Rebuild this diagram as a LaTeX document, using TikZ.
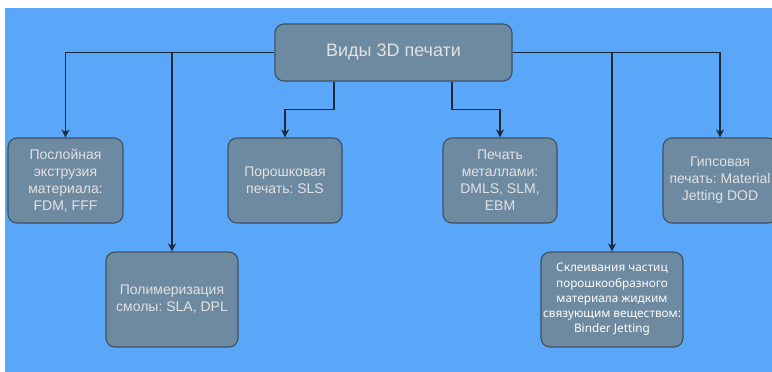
\documentclass[tikz,border=0pt]{standalone}
\usepackage{fontspec}
\setmainfont{Liberation Sans}
\newfontfamily\uifont{Noto Sans}
\usetikzlibrary{arrows.meta,calc}
\frenchspacing
\definecolor{canvasblue}{HTML}{5AA6F8}
\definecolor{boxfill}{HTML}{6E8AA0}
\definecolor{boxline}{HTML}{3E5163}
\definecolor{boxtext}{HTML}{E2E2E2}
\definecolor{wire}{HTML}{1C2A38}
\tikzset{
  card/.style={draw=boxline, fill=boxfill, line width=1.1pt, rounded corners=9pt,
    inner sep=0pt, align=center, text=boxtext,
    font=\frenchspacing\fontsize{14}{17}\selectfont},
  wirearrow/.style={draw=wire, line width=1.1pt,
    -{Stealth[length=8pt,width=8pt,inset=2.5pt]}}
}
\begin{document}
\begin{tikzpicture}[x=1pt,y=-1pt]
  \useasboundingbox (0,0) rectangle (772,372);
  \clip (0,0) rectangle (772,372);
  \fill[white] (0,0) rectangle (772,372);
  \fill[canvasblue] (5,8) rectangle (780,380);

  % boxes
  \node[card, minimum width=237pt, minimum height=57pt,
        font=\fontsize{18}{21}\selectfont] (main) at (393.5,52.5) {Виды 3D печати};
  \node[card, minimum width=115pt, minimum height=85pt] (ext) at (65.5,180.5)
    {Послойная\\экструзия\\материала:\\FDM, FFF};
  \node[card, minimum width=114pt, minimum height=85pt] (sls) at (285,180.5)
    {Порошковая\\печать: SLS};
  \node[card, minimum width=114pt, minimum height=85pt] (met) at (500,180.5)
    {Печать\\металлами:\\DMLS, SLM,\\EBM};
  \node[card, minimum width=114pt, minimum height=85pt] (gyp) at (720,180.5)
    {Гипсовая\\печать: Material\\Jetting DOD};
  \node[card, minimum width=132pt, minimum height=95pt] (poly) at (172,299.5)
    {Полимеризация\\смолы: SLA, DPL};
  \node[card, minimum width=142pt, minimum height=95pt,
        text=white!92!boxtext, font=\frenchspacing\uifont\fontsize{11.8}{15.2}\selectfont] (bind) at (612,299.5)
    {Склеивания частиц\\порошкообразного\\материала жидким\\связующим веществом:\\Binder Jetting};

  % junction points
  \coordinate (jl) at (main.west -| poly.north);
  \coordinate (jr) at (main.east -| bind.north);
  \coordinate (ms1) at ([xshift=-59.5pt]main.south);
  \coordinate (ms2) at ([xshift=58.5pt]main.south);

  % connectors
  \draw[wirearrow] (main.west) -| (ext.north);
  \draw[wirearrow] (jl) -- (poly.north);
  \draw[wirearrow] (main.east) -| (gyp.north);
  \draw[wirearrow] (jr) -- (bind.north);
  \draw[wirearrow] (ms1) -- ++(0,28) -| (sls.north);
  \draw[wirearrow] (ms2) -- ++(0,28) -| (met.north);
\end{tikzpicture}
\end{document}
